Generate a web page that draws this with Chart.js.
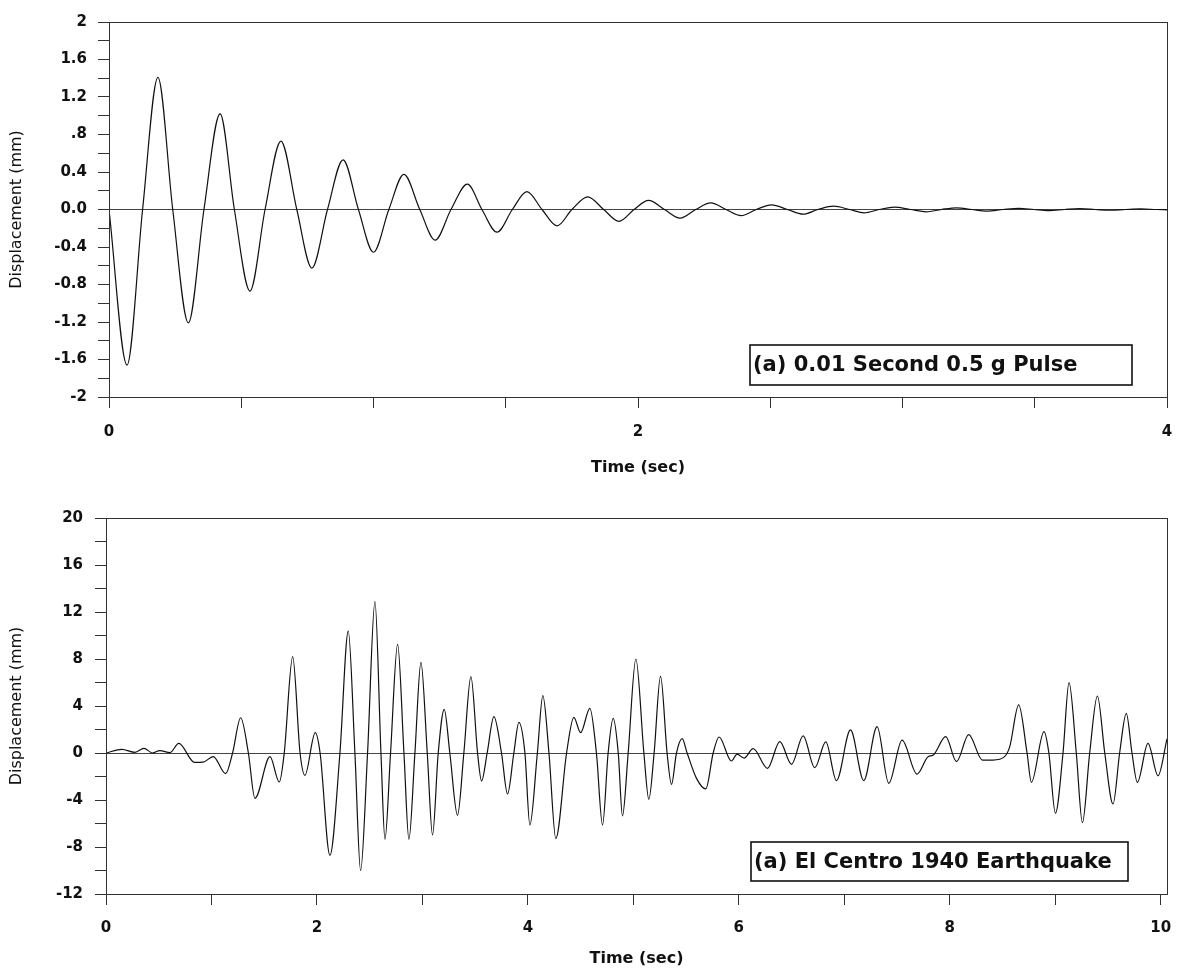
<!DOCTYPE html>
<html>
<head>
<meta charset="utf-8">
<title>Displacement response</title>
<script src="https://cdn.jsdelivr.net/npm/chart.js@4.4.1/dist/chart.umd.min.js"></script>
<style>
  body { margin: 0; background: #fff; }
  #wrap { position: relative; width: 1177px; height: 973px; }
  canvas { position: absolute; left: 0; }
  #pulse { top: 0; }
  #quake { top: 485px; }
</style>
</head>
<body>
<div id="wrap">
  <canvas id="pulse" width="1177" height="485"></canvas>
  <canvas id="quake" width="1177" height="488"></canvas>
</div>
<script>
// (a) free vibration after a 0.01 s, 0.5 g pulse
const pulseTime = [
  0, 0.068, 0.127, 0.185, 0.241, 0.30, 0.359, 0.42, 0.474, 0.533, 0.59, 0.65,
  0.71, 0.767, 0.826, 0.885, 0.943, 1.00, 1.058, 1.115, 1.175, 1.233, 1.293, 1.355,
  1.41, 1.467, 1.525, 1.58, 1.637, 1.694, 1.75, 1.81, 1.87, 1.928, 1.985, 2.04,
  2.10, 2.159, 2.218, 2.275, 2.333, 2.39, 2.447, 2.505, 2.565, 2.624, 2.68, 2.74,
  2.80, 2.855, 2.912, 2.97, 3.03, 3.09, 3.147, 3.205, 3.262, 3.32, 3.38, 3.44,
  3.497, 3.554, 3.612, 3.67, 3.728, 3.785, 3.843, 3.90, 3.96, 4.0
];
const pulseDisp = [
  0, -1.66, 0, 1.41, 0, -1.21, 0, 1.02, 0, -0.87, 0, 0.73,
  0, -0.625, 0, 0.53, 0, -0.456, 0, 0.375, 0, -0.326, 0, 0.27,
  0, -0.242, 0, 0.19, 0, -0.175, 0, 0.135, 0, -0.126, 0, 0.097,
  0, -0.092, 0, 0.07, 0, -0.065, 0, 0.05, 0, -0.05, 0, 0.035,
  0, -0.035, 0, 0.025, 0, -0.025, 0, 0.018, 0, -0.017, 0, 0.013,
  0, -0.012, 0, 0.009, 0, -0.008, 0, 0.006, 0, -0.003
];

// (b) response to the El Centro 1940 record
const quakeTime = [
  0, 0.15, 0.275, 0.36, 0.44, 0.51, 0.607, 0.69, 0.84, 0.92, 1.017, 1.134,
  1.2, 1.277, 1.35, 1.412, 1.555, 1.643, 1.69, 1.77, 1.84, 1.886, 1.984, 2.03,
  2.123, 2.218, 2.297, 2.36, 2.414, 2.48, 2.55, 2.607, 2.645, 2.698, 2.765, 2.825,
  2.872, 2.929, 2.986, 3.046, 3.096, 3.15, 3.207, 3.26, 3.333, 3.393, 3.46, 3.523,
  3.561, 3.614, 3.678, 3.75, 3.807, 3.867, 3.915, 3.972, 4.019, 4.09, 4.142, 4.2,
  4.265, 4.367, 4.436, 4.5, 4.588, 4.65, 4.708, 4.761, 4.809, 4.857, 4.897, 4.951,
  5.024, 5.1, 5.147, 5.197, 5.258, 5.32, 5.362, 5.409, 5.463, 5.51, 5.599, 5.687,
  5.757, 5.813, 5.93, 5.984, 6.05, 6.136, 6.272, 6.389, 6.5, 6.61, 6.72, 6.825,
  6.926, 7.059, 7.185, 7.311, 7.422, 7.548, 7.69, 7.795, 7.84, 7.962, 8.064, 8.18,
  8.31, 8.41, 8.52, 8.569, 8.654, 8.733, 8.774, 8.894, 8.94, 9.002, 9.074, 9.131,
  9.2, 9.258, 9.327, 9.4, 9.47, 9.548, 9.611, 9.674, 9.728, 9.779, 9.88, 9.975,
  10.06
];
const quakeDisp = [
  0, 0.31, 0.06, 0.4, 0.0, 0.2, 0.03, 0.82, -0.8, -0.78, -0.3, -1.76,
  0, 3.0, 0, -3.86, -0.31, -2.47, 0, 8.2, 0, -1.9, 1.73, 0,
  -8.71, 0, 10.38, 0, -10.0, 0, 12.88, 0, -7.35, 0, 9.25, 0,
  -7.35, 0, 7.72, 0, -6.98, 0, 3.72, 0, -5.3, 0, 6.5, 0,
  -2.38, 0, 3.09, 0, -3.49, 0, 2.61, 0, -6.13, 0, 4.88, 0,
  -7.29, 0, 3.03, 1.73, 3.8, 0, -6.13, 0, 2.95, 0, -5.36, 0,
  8.0, 0, -3.94, 0, 6.55, 0, -2.67, 0, 1.22, 0, -2.16, -3.06,
  0, 1.36, -0.68, -0.1, -0.43, 0.37, -1.3, 0.96, -0.96, 1.45, -1.25, 0.94,
  -2.35, 1.96, -2.35, 2.24, -2.58, 1.1, -1.79, -0.31, -0.2, 1.39, -0.74, 1.56,
  -0.6, -0.6, -0.31, 0.54, 4.09, 0, -2.5, 1.82, 0, -5.13, 0, 5.99,
  0, -5.93, 0, 4.85, 0, -4.34, 0, 3.38, 0, -2.5, 0.82, -1.93,
  1.2
];

// tick positions and their printed labels ('' = unlabelled minor tick)
const pulseXTicks = [0, 0.5, 1, 1.5, 2, 2.5, 3, 3.5, 4];
const pulseXLabels = ['0', '', '', '', '2', '', '', '', '4'];
const pulseYTicks = [-2, -1.8, -1.6, -1.4, -1.2, -1, -0.8, -0.6, -0.4, -0.2, 0,
  0.2, 0.4, 0.6, 0.8, 1, 1.2, 1.4, 1.6, 1.8, 2];
const pulseYLabels = ['-2', '', '-1.6', '', '-1.2', '', '-0.8', '', '-0.4', '', '0.0',
  '', '0.4', '', '.8', '', '1.2', '', '1.6', '', '2'];

const quakeXTicks = [0, 1, 2, 3, 4, 5, 6, 7, 8, 9, 10];
const quakeXLabels = ['0', '', '2', '', '4', '', '6', '', '8', '', '10'];
const quakeYTicks = [-12, -10, -8, -6, -4, -2, 0, 2, 4, 6, 8, 10, 12, 14, 16, 18, 20];
const quakeYLabels = ['-12', '', '-8', '', '-4', '', '0', '', '4', '', '8', '', '12', '', '16', '', '20'];

const FONT = 'DejaVu Sans';
const INK = '#111';
const AXIS = '#333';

// box round the whole plot area
const framePlugin = {
  id: 'frame',
  afterDatasetsDraw(chart) {
    const { ctx, chartArea: a } = chart;
    ctx.save();
    ctx.strokeStyle = AXIS;
    ctx.lineWidth = 1;
    ctx.strokeRect(Math.round(a.left) + 0.5, Math.round(a.top) + 0.5,
      Math.round(a.right - a.left), Math.round(a.bottom - a.top));
    ctx.restore();
  }
};

// boxed caption in the lower right corner
const captionPlugin = {
  id: 'caption',
  afterDraw(chart, args, opts) {
    if (!opts.text) return;
    const { ctx, chartArea: a } = chart;
    const right = Math.round(a.right - opts.right);
    const bottom = Math.round(a.bottom - opts.bottom);
    const left = right - opts.width;
    const top = bottom - opts.height;
    ctx.save();
    ctx.fillStyle = '#fff';
    ctx.fillRect(left, top, opts.width, opts.height);
    ctx.lineWidth = 1.6;
    ctx.strokeStyle = INK;
    ctx.strokeRect(left, top, opts.width, opts.height);
    ctx.font = 'bold 21px "' + FONT + '"';
    ctx.fillStyle = INK;
    ctx.textBaseline = 'middle';
    ctx.fillText(opts.text, left + 3, top + opts.height / 2 + 1);
    ctx.restore();
  }
};

function plotResponse(canvasId, cfg) {
  const ctx = document.getElementById(canvasId).getContext('2d');
  const points = cfg.t.map((t, i) => ({ x: t, y: cfg.d[i] }));

  return new Chart(ctx, {
    type: 'line',
    data: {
      datasets: [{
        data: points,
        borderColor: INK,
        borderWidth: 1.2,
        pointRadius: 0,
        fill: false,
        cubicInterpolationMode: 'monotone'
      }]
    },
    options: {
      responsive: false,
      animation: false,
      devicePixelRatio: 1,
      layout: { padding: { top: cfg.padTop, right: 10, left: 0, bottom: 0 } },
      plugins: {
        legend: { display: false },
        tooltip: { enabled: false },
        caption: cfg.caption
      },
      scales: {
        x: {
          type: 'linear',
          min: cfg.xMin,
          max: cfg.xMax,
          afterBuildTicks: s => { s.ticks = cfg.xTicks.map(v => ({ value: v })); },
          afterFit: s => {
            s.height = cfg.xAxisHeight;
            // edge labels are small; keep the plot out to the layout padding
            s.paddingLeft = 0;
            s.paddingRight = 0;
          },
          ticks: {
            autoSkip: false,
            maxRotation: 0,
            padding: cfg.xTickPad,
            color: INK,
            font: { family: FONT, size: 15, weight: 'bold' },
            callback: (v, i) => cfg.xLabels[i]
          },
          grid: { drawOnChartArea: false, drawTicks: true, tickLength: 11, tickColor: AXIS },
          border: { display: true, color: AXIS, width: 1 },
          title: {
            display: true,
            text: 'Time (sec)',
            color: INK,
            font: { family: FONT, size: 16, weight: 'bold' },
            padding: { top: 0, bottom: cfg.xTitlePad }
          }
        },
        y: {
          type: 'linear',
          min: cfg.yMin,
          max: cfg.yMax,
          afterBuildTicks: s => { s.ticks = cfg.yTicks.map(v => ({ value: v })); },
          afterFit: s => { s.width = cfg.yAxisWidth; },
          ticks: {
            autoSkip: false,
            padding: cfg.yTickPad,
            color: INK,
            font: { family: FONT, size: 15, weight: 'bold' },
            callback: (v, i) => cfg.yLabels[i]
          },
          grid: {
            color: c => (c.tick && c.tick.value === 0 ? '#444' : 'rgba(0,0,0,0)'),
            tickColor: AXIS,
            tickLength: 11,
            lineWidth: 1
          },
          border: { display: true, color: AXIS, width: 1 },
          title: {
            display: true,
            text: 'Displacement (mm)',
            color: INK,
            font: { family: FONT, size: 16 },
            padding: { top: 7, bottom: 0 }
          }
        }
      }
    },
    plugins: [framePlugin, captionPlugin]
  });
}

plotResponse('pulse', {
  t: pulseTime, d: pulseDisp,
  xMin: 0, xMax: 4, xTicks: pulseXTicks, xLabels: pulseXLabels,
  yMin: -2, yMax: 2, yTicks: pulseYTicks, yLabels: pulseYLabels,
  padTop: 22, yAxisWidth: 109, xAxisHeight: 88,
  xTickPad: 15, xTitlePad: 8, yTickPad: 11,
  caption: { text: '(a) 0.01 Second 0.5 g Pulse', right: 35, bottom: 12, width: 382, height: 40 }
});

plotResponse('quake', {
  t: quakeTime, d: quakeDisp,
  xMin: 0, xMax: 10.06, xTicks: quakeXTicks, xLabels: quakeXLabels,
  yMin: -12, yMax: 20, yTicks: quakeYTicks, yLabels: quakeYLabels,
  padTop: 33, yAxisWidth: 106, xAxisHeight: 79,
  xTickPad: 14, xTitlePad: 5, yTickPad: 12,
  caption: { text: '(a) El Centro 1940 Earthquake', right: 39, bottom: 13, width: 377, height: 39 }
});
</script>
</body>
</html>
